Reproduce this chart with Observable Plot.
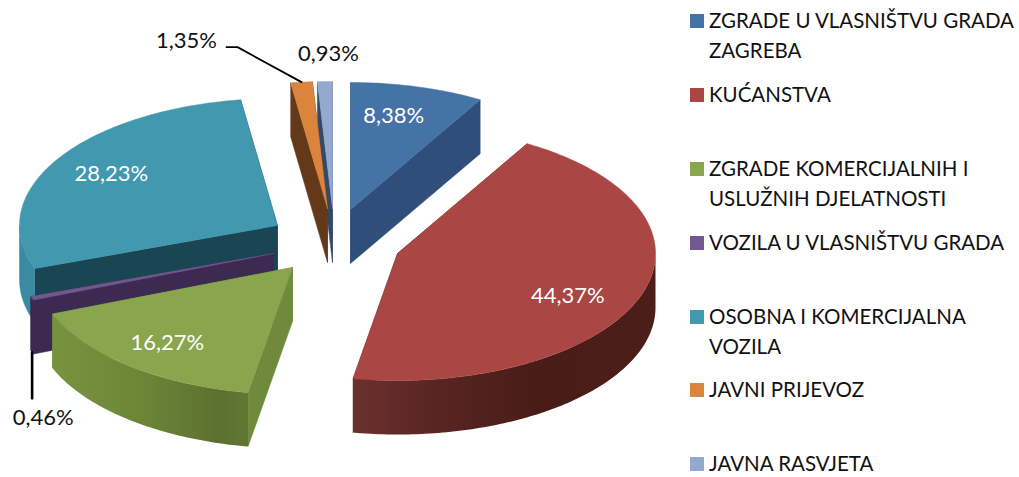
<!DOCTYPE html>
<html>
<head>
<meta charset="utf-8">
<script src="https://cdn.jsdelivr.net/npm/d3@7"></script>
<script src="https://cdn.jsdelivr.net/npm/@observablehq/plot@0.6"></script>
<style>
  html, body { margin: 0; padding: 0; background: #fff; overflow: hidden; }
  #page { display: flex; width: 1019px; height: 477px; }
  #chart { width: 690px; height: 477px; flex: none; }
  #chart svg { display: block; }
  #legend { position: relative; flex: none; width: 329px; font-family: Lato, sans-serif; font-size: 20.5px; line-height: 30px; color: #111; padding-top: 5px; }
  .item { height: 73.9px; display: flex; box-sizing: border-box; }
  .sw { flex: none; width: 14px; height: 14px; margin-top: 9px; margin-right: 5px; }
  .tx { width: 312px; white-space: pre-line; }
</style>
</head>
<body>
<div id="page"><div id="chart"></div><div id="legend"></div></div>
<script>
// Data
const categories = ["ZGRADE U VLASNIŠTVU GRADA\nZAGREBA", "KUĆANSTVA", "ZGRADE KOMERCIJALNIH I\nUSLUŽNIH DJELATNOSTI", "VOZILA U VLASNIŠTVU GRADA", "OSOBNA I KOMERCIJALNA\nVOZILA", "JAVNI PRIJEVOZ", "JAVNA RASVJETA"];
const shares = [8.38, 44.37, 16.27, 0.46, 28.23, 1.35, 0.93];
const shareLabels = ["8,38%", "44,37%", "16,27%", "0,46%", "28,23%", "1,35%", "0,93%"];

// Styles
const topColors = ["#4673a6", "#aa4643", "#89a54e", "#71588f", "#4198af", "#db843d", "#93a9cf"];
const sideColors = ["#2f4f7a", "#5a2523", "#6f8a3c", "#3d2a52", "#1a4553", "#64391a", "#34486a"];
const wallFills = ["#2f4f7a", "url(#wallRed)", "url(#wallGreen)", "#3d2a52", "#3b8aa3", "#64391a", "#34486a"];
const labelColors = ["#fff", "#fff", "#fff", "#111", "#fff", "#111", "#111"];

// Layout of the exploded 3D pie
const centre = [345, 235], rx = 258, ry = 127, depth = 54;
const explodeX = [5, 52, -53, -72, -68, -18, -13];
const explodeY = [-26, 18, 32, 18, -10, -27, -27];
const labelDx = [-24, -72, 38, 11, 55, -115, 3.5];
const labelDy = [29, -1, -23, 120, 14, -41, -28];
const paintOrder = [0, 6, 5, 4, 3, 2, 1];

const toRad = p => p / 100 * 2 * Math.PI / (d3.sum(shares) / 100);
const starts = d3.cumsum([0, ...shares]);
const slices = shares.map((v, i) => {
  const a0 = toRad(starts[i]), a1 = toRad(starts[i + 1]);
  const ax = centre[0] + explodeX[i], ay = centre[1] + explodeY[i];
  const at = t => ({x: ax + rx * Math.sin(t), y: ay - ry * Math.cos(t)});
  const n = Math.max(2, Math.ceil((a1 - a0) * 60));
  const arc = d3.range(n + 1).map(k => at(a0 + (a1 - a0) * k / n));
  const down = p => ({x: p.x, y: p.y + depth});
  const apex = {x: ax, y: ay};
  const mid = at((a0 + a1) / 2);
  // outer wall: only the part of the rim that faces the viewer
  const w0 = Math.max(a0, Math.PI / 2), w1 = Math.min(a1, 3 * Math.PI / 2);
  let wall = null;
  if (w1 > w0) {
    const m = Math.max(2, Math.ceil((w1 - w0) * 60));
    const rim = d3.range(m + 1).map(k => at(w0 + (w1 - w0) * k / m));
    wall = [...rim, ...rim.slice().reverse().map(down)];
  }
  // extra rim stretch of the teal slice that curves over the leftmost point
  return {
    i, apex, mid, wall,
    top: [apex, ...arc, apex],
    sideA: [apex, arc[0], down(arc[0]), down(apex), apex],
    sideB: [apex, arc[n], down(arc[n]), down(apex), apex],
    label: {x: mid.x + labelDx[i], y: mid.y + labelDy[i], text: shareLabels[i], color: labelColors[i]}
  };
});

const poly = (pts, fill) => Plot.line(pts, {x: "x", y: "y", fill, stroke: fill.startsWith("url") ? "none" : fill, strokeWidth: 0.5, curve: "linear"});

const gradients = () => {
  const defs = d3.create("svg:defs");
  const add = (id, stops) => {
    const g = defs.append("linearGradient").attr("id", id).attr("x1", 0).attr("x2", 1).attr("y1", 0).attr("y2", 0);
    stops.forEach(([o, c]) => g.append("stop").attr("offset", o).attr("stop-color", c));
  };
  add("wallRed", [[0, "#6b302e"], [0.3, "#572422"], [0.6, "#491c18"], [1, "#4c1e19"]]);
  add("wallGreen", [[0, "#78933f"], [0.45, "#6c8638"], [0.85, "#5c7130"], [1, "#617733"]]);
  return defs.node();
};

const sliceMarks = paintOrder.flatMap(i => {
  const s = slices[i];
  const list = [poly(s.sideA, sideColors[i]), poly(s.sideB, sideColors[i])];
  if (s.wall) list.push(poly(s.wall, wallFills[i]));
  list.push(poly(s.top, topColors[i]));
  return list;
});

// Leader lines hang off the slices they belong to
const orange = slices[5], purple = slices[3];
const leaderOrange = [orange.mid, {x: orange.mid.x - 64, y: orange.mid.y - 35}, {x: orange.mid.x - 75, y: orange.mid.y - 35}];
const leaderPurple = [{x: purple.mid.x, y: purple.mid.y + depth}, {x: purple.mid.x, y: purple.mid.y + depth + 46}];

const chart = Plot.plot({
  width: 690, height: 477, margin: 0,
  x: {domain: [0, 690], range: [0, 690], axis: null},
  y: {domain: [0, 477], range: [0, 477], axis: null},
  style: {background: "#fff", overflow: "visible"},
  marks: [
    gradients,
    ...sliceMarks,
    Plot.line(leaderOrange, {x: "x", y: "y", stroke: "#000", strokeWidth: 1.8}),
    Plot.line(leaderPurple, {x: "x", y: "y", stroke: "#000", strokeWidth: 2.6}),
    Plot.text(slices.map(s => s.label), {x: "x", y: "y", text: "text", fill: d => d.color, fontFamily: "Lato, sans-serif", fontSize: 22, textAnchor: "middle"})
  ],
  color: {type: "identity"}
});
document.getElementById("chart").append(chart);

const legend = d3.select("#legend").selectAll("div.item").data(categories).join("div").attr("class", "item");
legend.append("div").attr("class", "sw").style("background", (d, i) => topColors[i]);
legend.append("div").attr("class", "tx").text(d => d);
</script>
</body>
</html>
